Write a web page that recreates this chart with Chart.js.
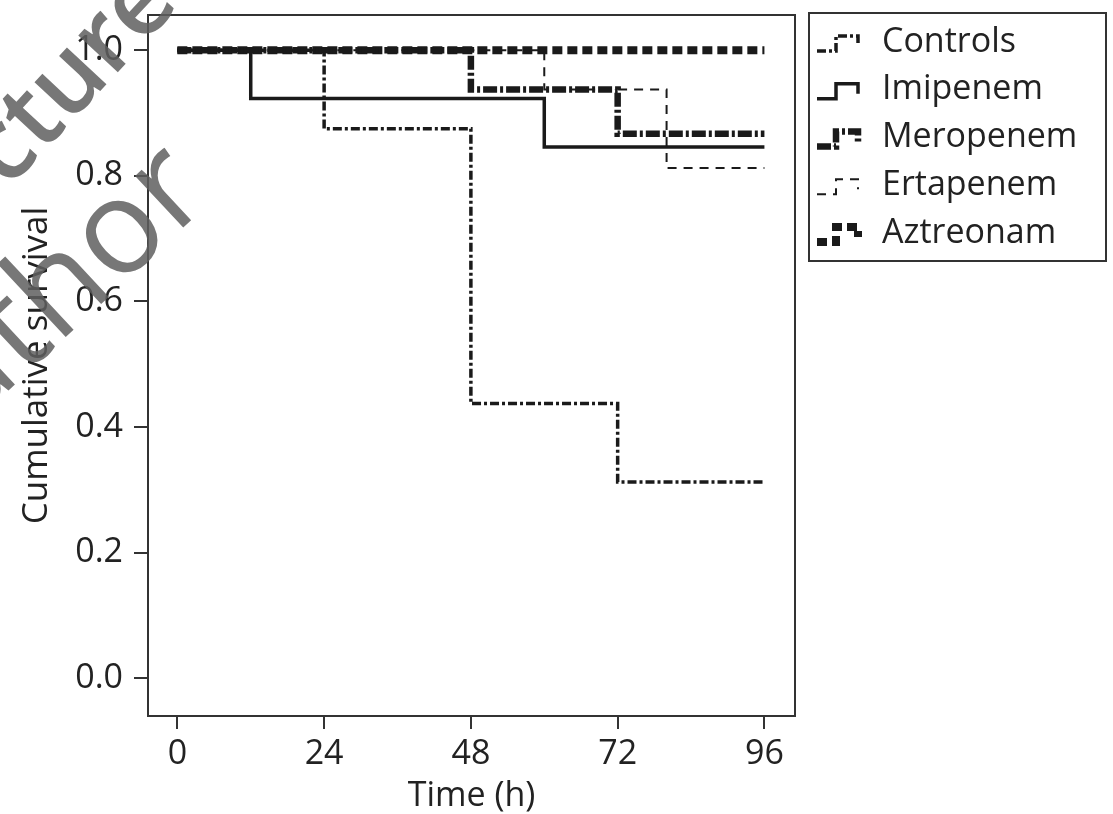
<!DOCTYPE html>
<html>
<head>
<meta charset="utf-8">
<script src="https://cdn.jsdelivr.net/npm/chart.js@4.4.1/dist/chart.umd.min.js"></script>
<style>
  html, body { margin: 0; padding: 0; background: #fff; }
  #wrap { width: 1113px; height: 814px; position: relative; }
</style>
</head>
<body>
<div id="wrap"><canvas id="km"></canvas></div>
<script>
// Kaplan-Meier steps (time in h, cumulative survival)
const seriesNames = ['Controls', 'Imipenem', 'Meropenem', 'Ertapenem', 'Aztreonam'];

const controlsTime = [0, 24, 48, 72, 96];
const controlsSurv = [1.0, 0.875, 0.4375, 0.3125, 0.3125];

const imipenemTime = [0, 12, 60, 96];
const imipenemSurv = [1.0, 0.923, 0.846, 0.846];

const meropenemTime = [0, 48, 72, 96];
const meropenemSurv = [1.0, 0.9375, 0.867, 0.867];

const ertapenemTime = [0, 60, 80, 96];
const ertapenemSurv = [1.0, 0.9375, 0.8125, 0.8125];

const aztreonamTime = [0, 96];
const aztreonamSurv = [1.0, 1.0];

const xTicks = [0, 24, 48, 72, 96];
const yTicks = [0.0, 0.2, 0.4, 0.6, 0.8, 1.0];

const ink = '#1a1a1a';
const textCol = '#222';
const font34 = { family: '"Open Sans", sans-serif', size: 34 };

const toPoints = (times, surv) => times.map((t, i) => ({ x: t, y: surv[i] }));

const lineStyles = [
  { borderWidth: 3.5, borderDash: [9, 3, 3, 3] },
  { borderWidth: 3.5, borderDash: [] },
  { borderWidth: 6.5, borderDash: [14, 3, 3, 3] },
  { borderWidth: 2, borderDash: [9, 7] },
  { borderWidth: 8, borderDash: [10, 5] }
];

const allData = [
  toPoints(controlsTime, controlsSurv),
  toPoints(imipenemTime, imipenemSurv),
  toPoints(meropenemTime, meropenemSurv),
  toPoints(ertapenemTime, ertapenemSurv),
  toPoints(aztreonamTime, aztreonamSurv)
];

const frameBox = {
  id: 'frameBox',
  afterDatasetsDraw: (chart) => {
    const { ctx, chartArea: { left, right, top, bottom } } = chart;
    ctx.save();
    ctx.lineWidth = 2;
    ctx.strokeStyle = '#333';
    ctx.strokeRect(left, top, right - left, bottom - top);
    ctx.restore();
  }
};

// boxed legend with little step icons, like the original
const stepLegend = {
  id: 'stepLegend',
  afterDraw: (chart) => {
    const ctx = chart.ctx;
    ctx.save();
    ctx.lineWidth = 2;
    ctx.strokeStyle = '#333';
    ctx.strokeRect(809, 13, 297, 248);
    chart.data.datasets.forEach((ds, i) => {
      const cy = 42 + i * 47.75;
      ctx.beginPath();
      ctx.setLineDash(ds.borderDash);
      ctx.lineWidth = ds.borderWidth;
      ctx.strokeStyle = ink;
      ctx.moveTo(817, cy + 9);
      ctx.lineTo(836, cy + 9);
      ctx.lineTo(836, cy - 6);
      ctx.lineTo(858, cy - 6);
      ctx.lineTo(858, cy + 4);
      ctx.stroke();
      ctx.setLineDash([]);
      ctx.fillStyle = textCol;
      ctx.font = '34px "Open Sans", sans-serif';
      ctx.textBaseline = 'middle';
      ctx.textAlign = 'left';
      ctx.fillText(ds.label, 882, cy);
    });
    ctx.restore();
  }
};

// grey watermark fragments crossing the upper left corner
const watermark = {
  id: 'watermark',
  afterDraw: (chart) => {
    const ctx = chart.ctx;
    ctx.save();
    ctx.fillStyle = 'rgba(95, 95, 95, 0.85)';
    ctx.textBaseline = 'alphabetic';
    ctx.textAlign = 'left';
    ctx.font = '600 100px "Open Sans", sans-serif';
    ctx.translate(8, 190);
    ctx.rotate(-47 * Math.PI / 180);
    ctx.fillText('cture', 0, 0);
    ctx.restore();
    ctx.save();
    ctx.fillStyle = 'rgba(95, 95, 95, 0.85)';
    ctx.font = '500 132px "Open Sans", sans-serif';
    ctx.translate(-36, 432);
    ctx.rotate(-43 * Math.PI / 180);
    ctx.fillText('uthor', 0, 0);
    ctx.restore();
  }
};

new Chart(document.getElementById('km').getContext('2d'), {
  type: 'line',
  data: {
    datasets: allData.map((pts, i) => ({
      label: seriesNames[i],
      data: pts,
      stepped: 'before',
      fill: false,
      pointRadius: 0,
      borderColor: ink,
      borderCapStyle: 'butt',
      borderWidth: lineStyles[i].borderWidth,
      borderDash: lineStyles[i].borderDash
    }))
  },
  options: {
    responsive: true,
    maintainAspectRatio: false,
    animation: false,
    layout: { padding: { left: 0, top: 15, right: 318, bottom: 0 } },
    plugins: {
      legend: { display: false },
      tooltip: { enabled: false }
    },
    scales: {
      x: {
        type: 'linear',
        min: -4.8,
        max: 101,
        afterBuildTicks: (s) => { s.ticks = xTicks.map(v => ({ value: v })); },
        afterFit: (s) => { s.height = 98; },
        ticks: { font: font34, color: textCol, padding: 5, maxRotation: 0, autoSkip: false },
        grid: { drawOnChartArea: false, tickLength: 13, color: '#333', lineWidth: 2 },
        border: { display: false },
        title: { display: true, text: 'Time (h)', font: font34, color: textCol, padding: { top: 0, bottom: -3 } }
      },
      y: {
        type: 'linear',
        min: -0.06,
        max: 1.056,
        afterBuildTicks: (s) => { s.ticks = yTicks.map(v => ({ value: v })); },
        afterFit: (s) => { s.width = 148; },
        // small lineHeight keeps the label padding from pushing the plot top down
        ticks: { font: { family: '"Open Sans", sans-serif', size: 34, lineHeight: 0.2 }, color: textCol, padding: 11, callback: (v) => v.toFixed(1) },
        grid: { drawOnChartArea: false, tickLength: 14, color: '#333', lineWidth: 2 },
        border: { display: false },
        title: { display: true, text: 'Cumulative survival', font: { family: '"Open Sans", sans-serif', size: 35 }, color: textCol, padding: { top: 16, bottom: 0 } }
      }
    }
  },
  plugins: [frameBox, stepLegend, watermark]
});
</script>
</body>
</html>
